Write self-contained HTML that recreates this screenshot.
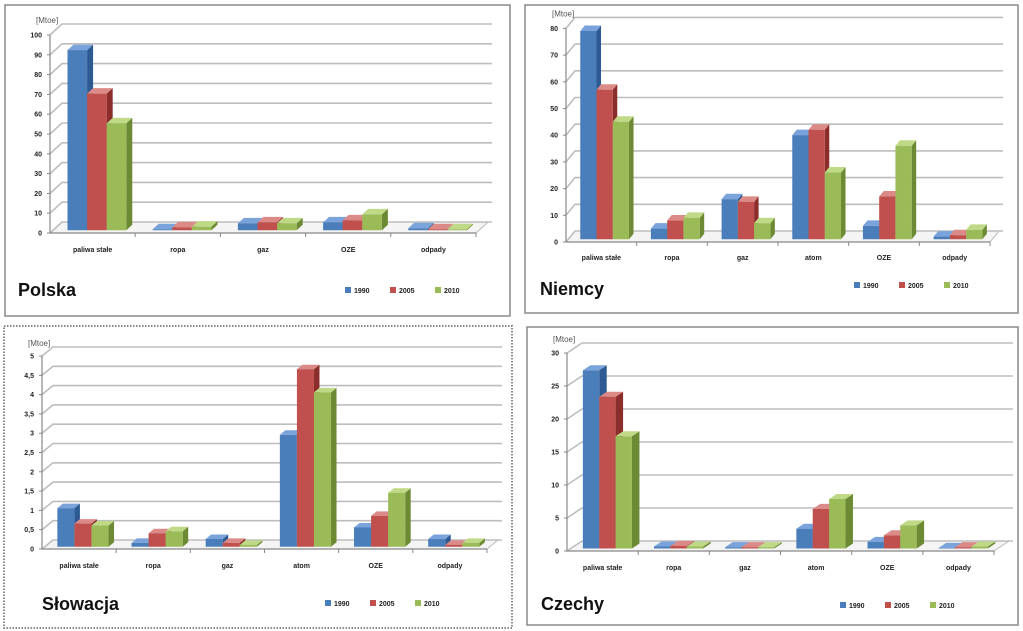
<!DOCTYPE html>
<html><head><meta charset="utf-8">
<style>
html,body{margin:0;padding:0;background:#fff;}
svg{display:block;font-family:"Liberation Sans",sans-serif;}
</style></head>
<body>
<svg id="c" width="1023" height="631" viewBox="0 0 1023 631"></svg>
<script>
const years = ["1990","2005","2010"];
const catsPL = ["paliwa stałe","ropa","gaz","OZE","odpady"];
const catsOther = ["paliwa stałe","ropa","gaz","atom","OZE","odpady"];
const plS1 = [91,0.5,3.5,4,1];
const plS2 = [69,1.5,4,5,0.5];
const plS3 = [54,1.8,3.5,8,0.5];
const deS1 = [78,4,15,39,5,1];
const deS2 = [56,7,14,41,16,1.5];
const deS3 = [44,8,6,25,35,3.5];
const skS1 = [1.0,0.1,0.2,2.9,0.5,0.2];
const skS2 = [0.6,0.35,0.1,4.6,0.8,0.05];
const skS3 = [0.55,0.4,0.05,4.0,1.4,0.1];
const czS1 = [27,0.3,0.2,3,1,0.1];
const czS2 = [23,0.4,0.2,6,2,0.2];
const czS3 = [17,0.3,0.2,7.5,3.5,0.3];
const plTicks = ["0","10","20","30","40","50","60","70","80","90","100"];
const deTicks = ["0","10","20","30","40","50","60","70","80"];
const skTicks = ["0","0,5","1","1,5","2","2,5","3","3,5","4","4,5","5"];
const czTicks = ["0","5","10","15","20","25","30"];

const NS="http://www.w3.org/2000/svg";
const svg=document.getElementById('c');
const cols=[["#4a7ebb","#7aa3dc","#2d5a93"],["#c0504d","#dc8a87","#8a2d2b"],["#9bbb59","#c0d986","#6c8a33"]];
function mk(tag,attrs,parent){const e=document.createElementNS(NS,tag);for(const k in attrs)e.setAttribute(k,attrs[k]);(parent||svg).appendChild(e);return e;}

function panel(p){
  const g=mk('g',{});
  
  
  const border=mk('rect',{x:p.bx,y:p.by,width:p.bw,height:p.bh,fill:'#fff',stroke:'#8a8a8a','stroke-width':p.dotted?2:1.5,'stroke-dasharray':p.dotted?'1.5 1.5':'none'},g);
  
  
  const y=v=>p.y0-v*p.k;
  const n=p.cats.length, cw=(p.xEnd-p.x0)/n;
  // floor
  mk('polygon',{points:`${p.x0},${p.y0} ${p.xEnd},${p.y0} ${p.xEnd+p.dx},${p.y0+p.dy} ${p.x0+p.dx},${p.y0+p.dy}`,fill:'#f4f4f4',stroke:'#bbb','stroke-width':1},g);
  // grid
  p.ticks.forEach((t,i)=>{
    const v=i*p.step, yy=y(v);
    const gl=mk('polyline',{points:`${p.x0},${yy} ${p.x0+p.dx},${yy+p.dy} ${p.xEnd+p.dx+4},${yy+p.dy}`,fill:'none',stroke:'#bdbdbd','stroke-width':1.6},g);
    
    
    const tl=mk('text',{x:p.x0-8,y:yy+2.5,'font-size':7,'font-weight':'bold','text-anchor':'end',fill:'#222'},g);
    tl.textContent=t;
    
    
    mk('line',{x1:p.x0-3,y1:yy,x2:p.x0,y2:yy,stroke:'#888'},g);
  });
  mk('line',{x1:p.x0,y1:p.y0,x2:p.x0,y2:y((p.ticks.length-1)*p.step),stroke:'#888','stroke-width':1.2},g);
  mk('line',{x1:p.x0,y1:p.y0,x2:p.xEnd,y2:p.y0,stroke:'#888','stroke-width':1.2},g);
  const unit=mk('text',{x:p.x0-14,y:y((p.ticks.length-1)*p.step)+p.dy-1,'font-size':8,fill:'#555'},g);
  unit.textContent='[Mtoe]';
  
  
  // bars
  const bw=cw*0.23, ox=p.dx*0.25, oy=p.dy*0.25, ddx=p.dx*0.5, ddy=p.dy*0.5;
  p.cats.forEach((c,ci)=>{
    const cx=p.x0+ci*cw;
    mk('line',{x1:cx+cw,y1:p.y0,x2:cx+cw,y2:p.y0+4,stroke:'#888'},g);
    const cl=mk('text',{x:cx+cw*0.5,y:p.labY,'font-size':7,'font-weight':'bold','text-anchor':'middle',fill:'#222'},g);
    cl.textContent=c;
    
    
    p.series.forEach((s,si)=>{
      const v=s[ci];
      const x1=cx+cw*0.17+si*bw+ox, x2=x1+bw, yb=p.y0+oy, yt=y(v)+oy;
      const co=cols[si];
      const bg=mk('g',{},g);
      
      
      mk('polygon',{points:`${x2},${yb} ${x2+ddx},${yb+ddy} ${x2+ddx},${yt+ddy} ${x2},${yt}`,fill:co[2]},bg);
      mk('polygon',{points:`${x1},${yt} ${x2},${yt} ${x2+ddx},${yt+ddy} ${x1+ddx},${yt+ddy}`,fill:co[1]},bg);
      mk('rect',{x:x1,y:yt,width:bw,height:Math.max(0,yb-yt),fill:co[0]},bg);
    });
  });
  const tt=mk('text',{x:p.tx,y:p.ty,'font-size':18,'font-weight':'bold',fill:'#111'},g);
  tt.textContent=p.title;
  
  
  years.forEach((yr,i)=>{
    const lx=p.lx+i*45;
    const le=mk('g',{},g);
    
    
    mk('rect',{x:lx,y:p.ly-6,width:6,height:6,fill:cols[i][0]},le);
    const lt=mk('text',{x:lx+9,y:p.ly,'font-size':7,'font-weight':'bold',fill:'#222'},le);
    lt.textContent=yr;
  });
}
panel({name:'polska',title:'Polska',cats:catsPL,series:[plS1,plS2,plS3],ticks:plTicks,step:10,x0:50,y0:233,dx:12,dy:-11,k:1.98,xEnd:476,bx:5,by:5,bw:505,bh:311,labY:252,tx:18,ty:296,lx:345,ly:293});
panel({name:'niemcy',title:'Niemcy',cats:catsOther,series:[deS1,deS2,deS3],ticks:deTicks,step:10,x0:566,y0:242,dx:9,dy:-11,k:2.67,xEnd:990,bx:525,by:5,bw:493,bh:308,labY:260,tx:540,ty:295,lx:854,ly:288});
panel({name:'slowacja',title:'Słowacja',cats:catsOther,series:[skS1,skS2,skS3],ticks:skTicks,step:0.5,x0:42,y0:549,dx:11,dy:-9,k:38.6,xEnd:487,bx:4,by:326,bw:508,bh:302,dotted:true,labY:568,tx:42,ty:610,lx:325,ly:606});
panel({name:'czechy',title:'Czechy',cats:catsOther,series:[czS1,czS2,czS3],ticks:czTicks,step:5,x0:567,y0:551,dx:15,dy:-10,k:6.6,xEnd:994,bx:527,by:327,bw:491,bh:298,labY:570,tx:541,ty:610,lx:840,ly:608});
</script>
</body></html>
